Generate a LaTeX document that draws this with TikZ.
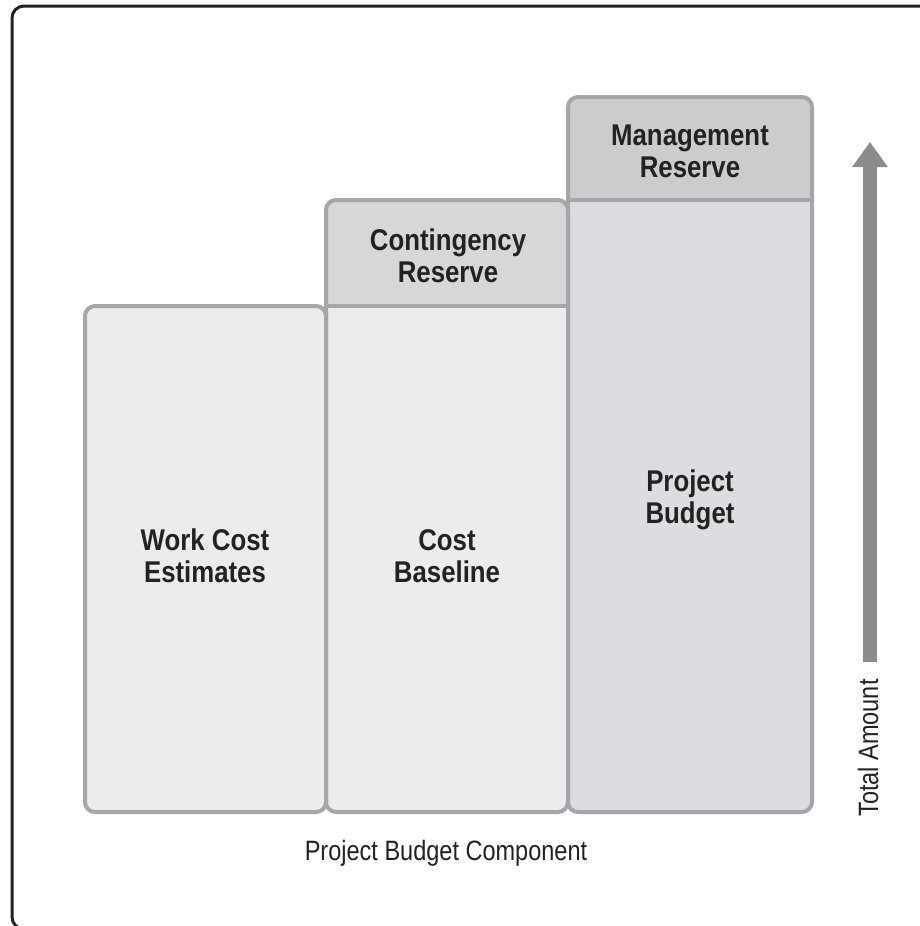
\documentclass[tikz,border=0pt]{standalone}
\usepackage{fontspec}
\newfontfamily\boxfont[FakeStretch=0.86]{Liberation Sans}
\newfontfamily\axisfont[FakeStretch=0.84]{Liberation Sans}
\usetikzlibrary{arrows.meta}
\definecolor{edgegray}{HTML}{A5A6A8}
\definecolor{lightfill}{HTML}{EBECED}
\definecolor{midfill}{HTML}{DCDDE0}
\definecolor{reservefill}{HTML}{D6D7D9}
\definecolor{arrowgray}{HTML}{8B8B8E}
\definecolor{inkgray}{HTML}{222222}
\tikzset{
  column/.style={draw=edgegray, line width=2pt, rounded corners=5pt},
  boxlabel/.style={align=center, text=inkgray, font=\boxfont\bfseries\fontsize{15}{16}\selectfont},
  axislabel/.style={text=inkgray, font=\axisfont\fontsize{14}{16}\selectfont}
}

\begin{document}
\begin{tikzpicture}[x=0.5pt,y=-0.5pt]
\clip (0,0) rectangle (920,926);
\fill [white] (0,0) rectangle (920,926);
% outer frame
\draw [inkgray, line width=1.5pt, rounded corners=6pt] (12,6) rectangle (960,929);

% column fills
\fill [lightfill, rounded corners=5pt] (85,306) rectangle (326,812);
\fill [lightfill, rounded corners=5pt] (326,200) rectangle (568,812);
\fill [midfill, rounded corners=5pt] (568,97) rectangle (812,812);
\begin{scope}
\clip (300,190) rectangle (568,306);
\fill [reservefill, rounded corners=5pt] (326,200) rectangle (568,812);
\end{scope}
\begin{scope}
\clip (540,80) rectangle (830,200);
\fill [reservefill!95!black, rounded corners=5pt] (568,97) rectangle (812,812);
\end{scope}

% column borders
\draw [column] (85,306) rectangle (326,812);
\draw [column] (326,200) rectangle (568,812);
\draw [column] (568,97) rectangle (812,812);
\draw [edgegray, line width=2pt] (326,306) -- (568,306);
\draw [edgegray, line width=2pt] (568,200) -- (812,200);

% labels
\node [boxlabel] (work) at (205,556) {Work Cost\\Estimates};
\node [boxlabel] (baseline) at (447,556) {Cost\\Baseline};
\node [boxlabel] (contingency) at (448,256) {Contingency\\Reserve};
\node [boxlabel] (budget) at (690,500) {Project\\Budget};
\node [boxlabel] (management) at (690,151) {Management\\Reserve};
\node [axislabel] (component) at (446,853) {Project Budget Component};
\node [axislabel, rotate=90] (total) at (868,748) {Total Amount};

% total amount arrow
\coordinate (arrowfoot) at (870,662);
\coordinate (arrowtip) at (870,142);
\draw [arrowgray, line width=7pt, -{Triangle[width=17pt,length=12.5pt]}] (arrowfoot) -- (arrowtip);
\end{tikzpicture}
\end{document}
